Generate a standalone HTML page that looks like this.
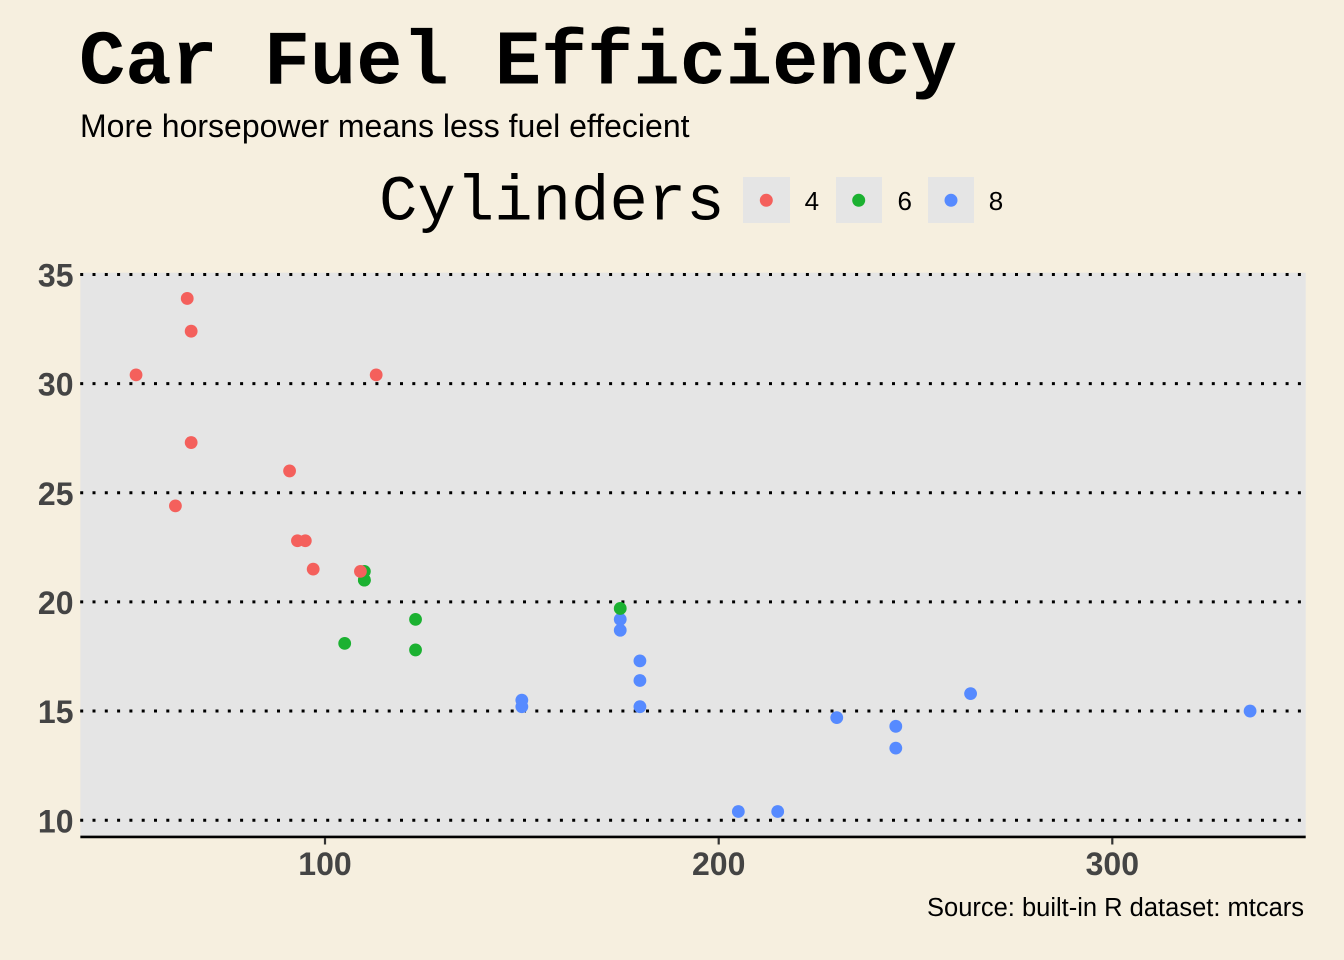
<!DOCTYPE html>
<html>
<head>
<meta charset="utf-8">
<style>
html,body{margin:0;padding:0;background:#F6EFDF;}
svg{display:block;}
</style>
</head>
<body>
<svg width="1344" height="960" viewBox="0 0 1344 960" xmlns="http://www.w3.org/2000/svg">
  <rect x="0" y="0" width="1344" height="960" fill="#F6EFDF"/>

  <!-- Title / subtitle -->
  <text x="79" y="83.3" font-family="'Liberation Mono', monospace" font-weight="bold" font-size="77" fill="#000">Car Fuel Efficiency</text>
  <text x="80" y="137" font-family="'Liberation Sans', sans-serif" font-size="32" fill="#000">More horsepower means less fuel effecient</text>

  <!-- Legend -->
  <text x="379" y="219.3" font-family="'Liberation Mono', monospace" font-size="64" fill="#000">Cylinders</text>
  <rect x="743" y="177" width="47" height="46" fill="#E5E5E5"/>
  <rect x="836" y="177" width="46" height="46" fill="#E5E5E5"/>
  <rect x="928" y="177" width="46" height="46" fill="#E5E5E5"/>
  <circle cx="766.3" cy="200.3" r="6.5" fill="#F4605C"/>
  <circle cx="858.7" cy="200.3" r="6.5" fill="#1BB131"/>
  <circle cx="951" cy="200.3" r="6.5" fill="#568AFF"/>
  <g font-family="'Liberation Sans', sans-serif" font-size="26" fill="#000" text-anchor="middle">
    <text x="811.8" y="210">4</text>
    <text x="904.7" y="210">6</text>
    <text x="996" y="210">8</text>
  </g>

  <!-- Panel -->
  <rect x="80.35" y="272.7" width="1225.4" height="564.2" fill="#E5E5E5"/>

  <!-- Dotted gridlines -->
  <g stroke="#000" stroke-width="3" stroke-dasharray="3 9.3" fill="none">
    <line x1="80.2" y1="820.2" x2="1305.7" y2="820.2"/>
    <line x1="80.2" y1="711.05" x2="1305.7" y2="711.05"/>
    <line x1="80.2" y1="601.9" x2="1305.7" y2="601.9"/>
    <line x1="80.2" y1="492.75" x2="1305.7" y2="492.75"/>
    <line x1="80.2" y1="383.6" x2="1305.7" y2="383.6"/>
    <line x1="80.2" y1="274.45" x2="1305.7" y2="274.45"/>
  </g>

  <!-- X axis line & ticks -->
  <line x1="80.35" y1="836.9" x2="1305.7" y2="836.9" stroke="#000" stroke-width="2.6"/>
  <g stroke="#333" stroke-width="2.2">
    <line x1="325" y1="838" x2="325" y2="844.5"/>
    <line x1="718.7" y1="838" x2="718.7" y2="844.5"/>
    <line x1="1112.3" y1="838" x2="1112.3" y2="844.5"/>
  </g>

  <!-- Tick labels -->
  <g font-family="'Liberation Sans', sans-serif" font-weight="bold" font-size="32" fill="#444">
    <g text-anchor="middle">
      <text x="325" y="875">100</text>
      <text x="718.7" y="875">200</text>
      <text x="1112.3" y="875">300</text>
    </g>
    <g text-anchor="end">
      <text x="73.5" y="832.3">10</text>
      <text x="73.5" y="723.1">15</text>
      <text x="73.5" y="614">20</text>
      <text x="73.5" y="504.8">25</text>
      <text x="73.5" y="395.7">30</text>
      <text x="73.5" y="286.6">35</text>
    </g>
  </g>

  <!-- Points (data order) -->
  <g>
    <circle cx="364.37" cy="580.07" r="6.4" fill="#1BB131"/>
    <circle cx="364.37" cy="580.07" r="6.4" fill="#1BB131"/>
    <circle cx="297.45" cy="540.78" r="6.4" fill="#F4605C"/>
    <circle cx="364.37" cy="571.34" r="6.4" fill="#1BB131"/>
    <circle cx="620.24" cy="630.28" r="6.4" fill="#568AFF"/>
    <circle cx="344.69" cy="643.38" r="6.4" fill="#1BB131"/>
    <circle cx="895.80" cy="726.33" r="6.4" fill="#568AFF"/>
    <circle cx="175.42" cy="505.85" r="6.4" fill="#F4605C"/>
    <circle cx="305.32" cy="540.78" r="6.4" fill="#F4605C"/>
    <circle cx="415.54" cy="619.36" r="6.4" fill="#1BB131"/>
    <circle cx="415.54" cy="649.93" r="6.4" fill="#1BB131"/>
    <circle cx="639.92" cy="680.49" r="6.4" fill="#568AFF"/>
    <circle cx="639.92" cy="660.84" r="6.4" fill="#568AFF"/>
    <circle cx="639.92" cy="706.68" r="6.4" fill="#568AFF"/>
    <circle cx="738.34" cy="811.47" r="6.4" fill="#568AFF"/>
    <circle cx="777.70" cy="811.47" r="6.4" fill="#568AFF"/>
    <circle cx="836.75" cy="717.60" r="6.4" fill="#568AFF"/>
    <circle cx="191.16" cy="331.21" r="6.4" fill="#F4605C"/>
    <circle cx="136.05" cy="374.87" r="6.4" fill="#F4605C"/>
    <circle cx="187.23" cy="298.46" r="6.4" fill="#F4605C"/>
    <circle cx="313.19" cy="569.15" r="6.4" fill="#F4605C"/>
    <circle cx="521.83" cy="700.13" r="6.4" fill="#568AFF"/>
    <circle cx="521.83" cy="706.68" r="6.4" fill="#568AFF"/>
    <circle cx="895.80" cy="748.16" r="6.4" fill="#568AFF"/>
    <circle cx="620.24" cy="619.36" r="6.4" fill="#568AFF"/>
    <circle cx="191.16" cy="442.54" r="6.4" fill="#F4605C"/>
    <circle cx="289.58" cy="470.92" r="6.4" fill="#F4605C"/>
    <circle cx="376.18" cy="374.87" r="6.4" fill="#F4605C"/>
    <circle cx="970.59" cy="693.59" r="6.4" fill="#568AFF"/>
    <circle cx="620.24" cy="608.45" r="6.4" fill="#1BB131"/>
    <circle cx="1250.08" cy="711.05" r="6.4" fill="#568AFF"/>
    <circle cx="360.43" cy="571.34" r="6.4" fill="#F4605C"/>
  </g>

  <!-- Caption -->
  <text x="1304" y="916" text-anchor="end" font-family="'Liberation Sans', sans-serif" font-size="25.5" fill="#000">Source: built-in R dataset: mtcars</text>
</svg>
</body>
</html>
